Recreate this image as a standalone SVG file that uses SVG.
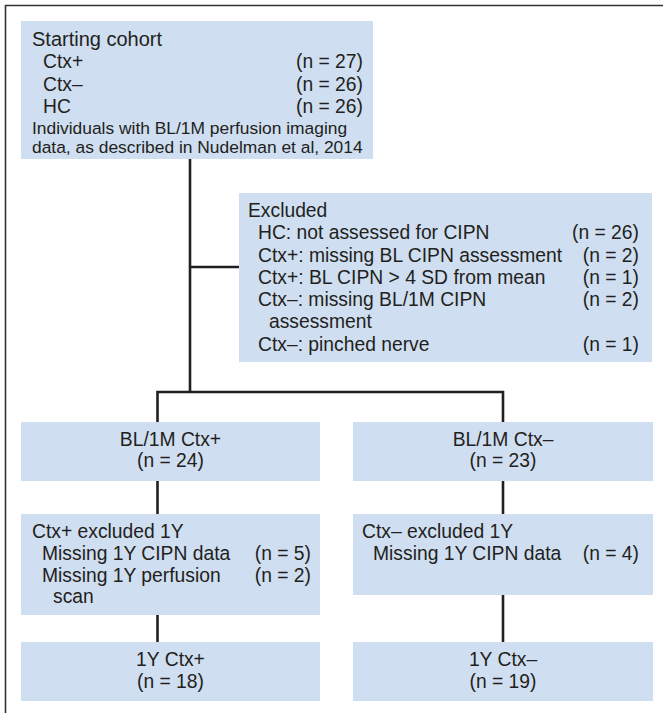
<svg xmlns="http://www.w3.org/2000/svg" width="663" height="713" viewBox="0 0 663 713">
<style>
.box{fill:#cfdef0}
text{font-family:"Liberation Sans",Arial,sans-serif;font-size:19.3px;fill:#231f20}
.sm{font-size:17.4px}
.hd{font-size:20px}
.e{text-anchor:end}
.m{text-anchor:middle}
.ln{stroke:#231f20;stroke-width:2.6;fill:none}
.frame{stroke:#333;stroke-width:1.6;fill:none}
</style>
<rect width="663" height="713" fill="#fff"/>
<path class="frame" d="M5.5,713 V5.5 H663"/>
<g id="connectors">
<path class="ln" d="M190,159 V392"/>
<path class="ln" d="M190,267 H239"/>
<path class="ln" d="M157.5,422 V392 H503 V422"/>
<path class="ln" d="M157.5,481 V514"/>
<path class="ln" d="M157.5,615 V642"/>
<path class="ln" d="M503,481 V514"/>
<path class="ln" d="M503,595 V642"/>
</g>
<g id="start">
<rect class="box" x="21" y="21" width="352" height="138"/>
<text x="32" y="45.7" class="hd">Starting cohort</text>
<text x="43" y="68">Ctx+</text>
<text x="363" y="68" class="e">(n = 27)</text>
<text x="43" y="90.5">Ctx–</text>
<text x="363" y="90.5" class="e">(n = 26)</text>
<text x="43" y="113">HC</text>
<text x="363" y="113" class="e">(n = 26)</text>
<text x="32" y="133.5" class="sm">Individuals with BL/1M perfusion imaging</text>
<text x="32" y="153" class="sm">data, as described in Nudelman et al, 2014</text>
</g>
<g id="excluded">
<rect class="box" x="239" y="193" width="413" height="169"/>
<text x="248" y="216.7">Excluded</text>
<text x="258" y="239.3">HC: not assessed for CIPN</text>
<text x="639" y="239.3" class="e">(n = 26)</text>
<text x="258" y="261.5">Ctx+: missing BL CIPN assessment</text>
<text x="639" y="261.5" class="e">(n = 2)</text>
<text x="258" y="283.5">Ctx+: BL CIPN &gt; 4 SD from mean</text>
<text x="639" y="283.5" class="e">(n = 1)</text>
<text x="258" y="305.8">Ctx–: missing BL/1M CIPN</text>
<text x="639" y="305.8" class="e">(n = 2)</text>
<text x="269" y="328.3">assessment</text>
<text x="258" y="350.7">Ctx–: pinched nerve</text>
<text x="639" y="350.7" class="e">(n = 1)</text>
</g>
<g id="bl-ctx-plus">
<rect class="box" x="21" y="422" width="299" height="59"/>
<text x="170.5" y="445.7" class="m">BL/1M Ctx+</text>
<text x="170.5" y="467" class="m">(n = 24)</text>
</g>
<g id="bl-ctx-minus">
<rect class="box" x="353" y="422" width="300" height="59"/>
<text x="503" y="445.7" class="m">BL/1M Ctx–</text>
<text x="503" y="467" class="m">(n = 23)</text>
</g>
<g id="excl-1y-plus">
<rect class="box" x="21" y="514" width="299" height="101"/>
<text x="32" y="538">Ctx+ excluded 1Y</text>
<text x="42" y="560">Missing 1Y CIPN data</text>
<text x="311" y="560" class="e">(n = 5)</text>
<text x="42" y="581.7">Missing 1Y perfusion</text>
<text x="311" y="581.7" class="e">(n = 2)</text>
<text x="53" y="603.3">scan</text>
</g>
<g id="excl-1y-minus">
<rect class="box" x="353" y="514" width="300" height="81"/>
<text x="362" y="538">Ctx– excluded 1Y</text>
<text x="373" y="560">Missing 1Y CIPN data</text>
<text x="639" y="560" class="e">(n = 4)</text>
</g>
<g id="y1-ctx-plus">
<rect class="box" x="21" y="642" width="299" height="59"/>
<text x="170.5" y="666" class="m">1Y Ctx+</text>
<text x="170.5" y="688" class="m">(n = 18)</text>
</g>
<g id="y1-ctx-minus">
<rect class="box" x="353" y="642" width="300" height="59"/>
<text x="503" y="666" class="m">1Y Ctx–</text>
<text x="503" y="688" class="m">(n = 19)</text>
</g>
</svg>
